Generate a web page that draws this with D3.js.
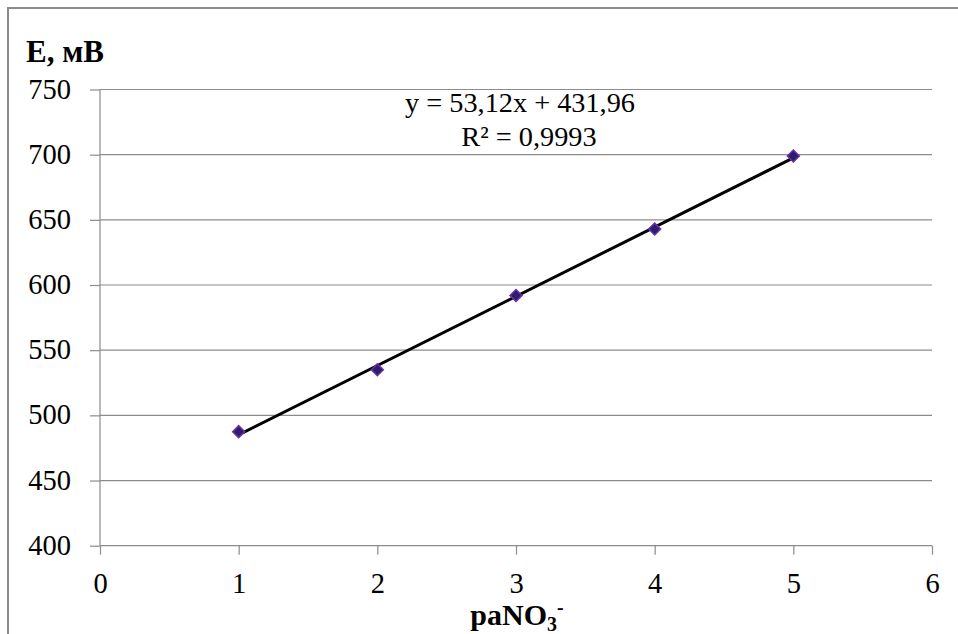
<!DOCTYPE html>
<html><head><meta charset="utf-8">
<script src="https://cdn.jsdelivr.net/npm/d3@7"></script>
</head><body style="margin:0">
<svg id="c" width="958" height="634" style="display:block"></svg>
<script>
const xValues = [1, 2, 3, 4, 5];
const yValues = [487.5, 535, 592, 643, 699];
const xTicks = [0, 1, 2, 3, 4, 5, 6];
const yTicks = [400, 450, 500, 550, 600, 650, 700, 750];
const slope = 53.12, intercept = 431.96;
const eqLabel = "y = 53,12x + 431,96";
const r2Label = "R² = 0,9993";
const yTitle = "E, мВ";
const FONT = "'Liberation Serif'";

const svg = d3.select("#c");
const m = {l:100, r:932, t:89.5, b:545.7};
const x = d3.scaleLinear().domain([0,6]).range([m.l, m.r]);
const y = d3.scaleLinear().domain([400,750]).range([m.b, m.t]);

// outer frame
svg.append("path").attr("d","M8,634 L8,8 L958,8").attr("fill","none").attr("stroke","#8c8c8c").attr("stroke-width",2);

// gridlines
svg.append("g").selectAll("line").data(yTicks.filter(d=>d>400)).join("line")
  .attr("x1",m.l).attr("x2",m.r).attr("y1",d=>y(d)).attr("y2",d=>y(d))
  .attr("stroke","#8c8c8c").attr("stroke-width",1.2);

// y axis
const ya = svg.append("g").attr("transform",`translate(${m.l},0)`)
  .call(d3.axisLeft(y).tickValues(yTicks).tickSize(10).tickPadding(19).tickFormat(d3.format("d")));
ya.attr("font-family",null).attr("font-size",null);
ya.select(".domain").attr("stroke","#8c8c8c").attr("stroke-width",1.2).attr("d",`M0,${m.t}V${m.b}`);
ya.selectAll(".tick line").attr("stroke","#8c8c8c").attr("stroke-width",1.2);
ya.selectAll(".tick text").style("font-family",FONT).attr("font-size",28.5).attr("fill","#000").attr("dy","0.3em");

// x axis
const xa = svg.append("g").attr("transform",`translate(0,${m.b})`)
  .call(d3.axisBottom(x).tickValues(xTicks).tickSize(9).tickPadding(18).tickFormat(d3.format("d")));
xa.attr("font-family",null).attr("font-size",null);
xa.select(".domain").attr("stroke","#8c8c8c").attr("stroke-width",1.2).attr("d",`M${m.l},0H${m.r}`);
xa.selectAll(".tick line").attr("stroke","#8c8c8c").attr("stroke-width",1.2);
xa.selectAll(".tick text").style("font-family",FONT).attr("font-size",28.5).attr("fill","#000");

// trendline
const x0 = d3.min(xValues), x1 = d3.max(xValues);
svg.append("line").attr("x1",x(x0)).attr("y1",y(slope*x0+intercept))
  .attr("x2",x(x1)).attr("y2",y(slope*x1+intercept))
  .attr("stroke","#000").attr("stroke-width",3);

// markers
svg.append("g").selectAll("path").data(xValues.map((d,i)=>[d,yValues[i]])).join("path")
  .attr("d",d3.symbol(d3.symbolSquare, 72))
  .attr("transform",d=>`translate(${x(d[0])},${y(d[1])}) rotate(45)`)
  .attr("fill","#2a1f6e").attr("stroke","#7030a0").attr("stroke-width",1.5);

// equation
svg.append("text").attr("x",520).attr("y",112).attr("text-anchor","middle")
  .style("font-family",FONT).attr("font-size",28.3).text(eqLabel);
svg.append("text").attr("x",529).attr("y",146).attr("text-anchor","middle")
  .style("font-family",FONT).attr("font-size",28.3).text(r2Label);

// y title
svg.append("text").attr("x",26).attr("y",62)
  .style("font-family",FONT).attr("font-size",31).attr("font-weight","bold").text(yTitle);

// x title
const xt = svg.append("text").attr("x",517).attr("y",625).attr("text-anchor","middle")
  .style("font-family",FONT).attr("font-size",30).attr("font-weight","bold");
xt.append("tspan").text("paNO");
xt.append("tspan").attr("font-size",20).attr("dy",6).text("3");
xt.append("tspan").attr("font-size",20).attr("dy",-17).text("-");
</script>
</body></html>
